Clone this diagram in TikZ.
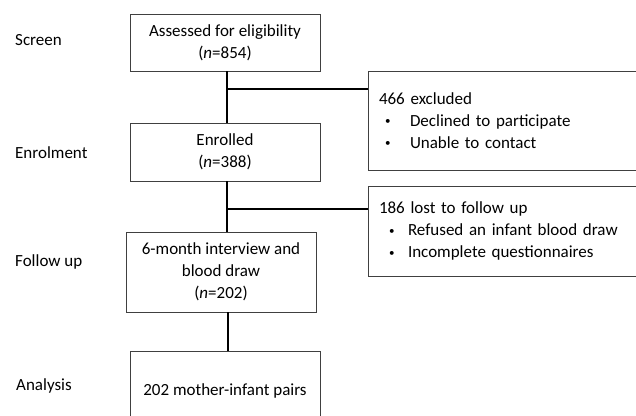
\documentclass[tikz,border=0pt]{standalone}
\usepackage{fontspec}
\setmainfont{Carlito}
\tikzset{
  x=1pt, y=-1pt,
  box/.style={draw=black!75, line width=0.9pt, fill=white, align=center, inner sep=0pt},
  sidebox/.style={draw=black!75, line width=0.9pt, fill=white, align=left, inner xsep=11pt, inner ysep=0pt},
  conn/.style={line width=1.6pt, black},
  lab/.style={anchor=west, inner sep=0pt},
}
\newcommand{\bul}[2]{\makebox[#2][l]{\hspace*{#1}\raisebox{1.5pt}{\fontsize{11}{11}\selectfont\textbullet}}}
\begin{document}
\begin{tikzpicture}[font=\fontsize{17}{22}\selectfont]
\useasboundingbox (0,0) rectangle (636,415);
\clip (0,0) rectangle (636,415);
% stage labels
\node[lab] (lscreen) at (15,40) {Screen};
\node[lab] (lenrol) at (15,153) {Enrolment};
\node[lab] (lfollow) at (15,262) {Follow up};
\node[lab] (lanal) at (16,386) {Analysis};
% main boxes
\node[box, minimum width=190, minimum height=57] (A) at (225,42.5) {Assessed for eligibility\\(\textit{n}=854)};
\node[box, minimum width=190, minimum height=58] (B) at (225,152) {Enrolled\\(\textit{n}=388)};
\node[box, minimum width=190, minimum height=80] (C) at (221,272) {6-month interview and\\blood draw\\(\textit{n}=202)};
\node[box, minimum width=190, minimum height=80] (D) at (225,391) {202 mother-infant pairs};
% side boxes
\node[sidebox, minimum width=292, minimum height=99, text width=270] (E) at (514,120.5)
  {466 excluded\\\bul{6pt}{31pt}Declined to participate\\\bul{6pt}{31pt}Unable to contact};
\node[sidebox, minimum width=292, minimum height=90, text width=270] (F) at (514,231)
  {186 lost to follow up\\\bul{10pt}{29pt}Refused an infant blood draw\\\bul{10pt}{29pt}Incomplete questionnaires};
% connectors
\coordinate (j1) at (227,89);
\coordinate (j2) at (227,209);
\draw[conn] (A.south -| j1) -- (B.north -| j1);
\draw[conn] (j1) -- (j1 -| E.west);
\draw[conn] (B.south -| j2) -- (C.north -| j2);
\draw[conn] (j2) -- (j2 -| F.west);
\draw[conn] (C.south -| 228,0) -- (D.north -| 228,0);
\end{tikzpicture}
\end{document}
